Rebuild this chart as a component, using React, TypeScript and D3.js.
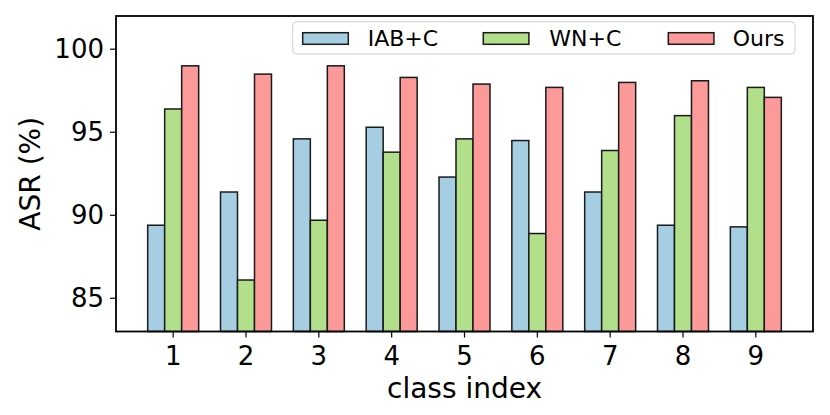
import React from "react";
import * as d3 from "d3";

const classes = ["1", "2", "3", "4", "5", "6", "7", "8", "9"];
const seriesNames = ["IAB+C", "WN+C", "Ours"];
const iabC = [89.4, 91.4, 94.6, 95.3, 92.3, 94.5, 91.4, 89.4, 89.3];
const wnC = [96.4, 86.1, 89.7, 93.8, 94.6, 88.9, 93.9, 96.0, 97.7];
const ours = [99.0, 98.5, 99.0, 98.3, 97.9, 97.7, 98.0, 98.1, 97.1];
const yTicks = [85, 90, 95, 100];
const colors = ["#a6cee3", "#b2df8a", "#fb9a99"];

const W = 830;
const H = 415;
const left = 116;
const right = 813;
const top = 16;
const bottom = 331.5;
const FONT = "'DejaVu Sans', sans-serif";

export default function App() {
  const series = [iabC, wnC, ours];
  const bw = 0.7 / 3;
  const x = d3.scaleLinear().domain([-0.785, 8.785]).range([left, right]);
  const y = d3.scaleLinear().domain([83, 102]).range([bottom, top]);
  const pxW = x(bw) - x(0);

  const legendItems = [
    { x: 302.7, tx: 367.7 },
    { x: 483.3, tx: 549.3 },
    { x: 668.3, tx: 732.7 },
  ];

  return (
    <svg
      width={W}
      height={H}
      style={{ position: "absolute", left: 0, top: 0, background: "#fff" }}
      fontFamily={FONT}
    >
      <rect x={0} y={0} width={W} height={H} fill="#fff" />
      {series.map((vals, s) =>
        vals.map((v, i) => {
          const cx = x(i + (s - 1) * bw);
          return (
            <rect
              key={`${s}-${i}`}
              x={cx - pxW / 2}
              y={y(v)}
              width={pxW}
              height={bottom - y(v)}
              fill={colors[s]}
              stroke="#1a1a1a"
              strokeWidth={1.5}
            />
          );
        })
      )}
      {/* y ticks */}
      {yTicks.map((t) => (
        <g key={t}>
          <line x1={left - 6} x2={left} y1={y(t)} y2={y(t)} stroke="#000" strokeWidth={1.2} />
          <text
            x={left - 12}
            y={y(t)}
            textAnchor="end"
            dominantBaseline="central"
            fontSize={26}
            fill="#000"
          >
            {t}
          </text>
        </g>
      ))}
      {/* x ticks */}
      {classes.map((c, i) => (
        <g key={c}>
          <line x1={x(i)} x2={x(i)} y1={bottom} y2={bottom + 6} stroke="#000" strokeWidth={1.2} />
          <text x={x(i)} y={364.5} textAnchor="middle" fontSize={26} fill="#000">
            {c}
          </text>
        </g>
      ))}
      {/* frame */}
      <rect
        x={left}
        y={top}
        width={right - left}
        height={bottom - top}
        fill="none"
        stroke="#000"
        strokeWidth={1.8}
      />
      {/* axis labels */}
      <text x={(left + right) / 2} y={397.5} textAnchor="middle" fontSize={28} fill="#000">
        class index
      </text>
      <text
        transform={`translate(40, ${(top + bottom) / 2}) rotate(-90)`}
        textAnchor="middle"
        fontSize={28}
        fill="#000"
      >
        ASR (%)
      </text>
      {/* legend */}
      <rect
        x={292.7}
        y={21.7}
        width={795 - 292.7}
        height={54 - 21.7}
        rx={4}
        fill="#fff"
        fillOpacity={0.8}
        stroke="#d0d0d0"
        strokeWidth={1}
      />
      {seriesNames.map((n, s) => (
        <g key={n}>
          <rect
            x={legendItems[s].x}
            y={32.7}
            width={45.6}
            height={11.6}
            fill={colors[s]}
            stroke="#1a1a1a"
            strokeWidth={1.5}
          />
          <text
            x={legendItems[s].tx}
            y={38.5}
            dominantBaseline="central"
            fontSize={22}
            fill="#000"
          >
            {n}
          </text>
        </g>
      ))}
    </svg>
  );
}
